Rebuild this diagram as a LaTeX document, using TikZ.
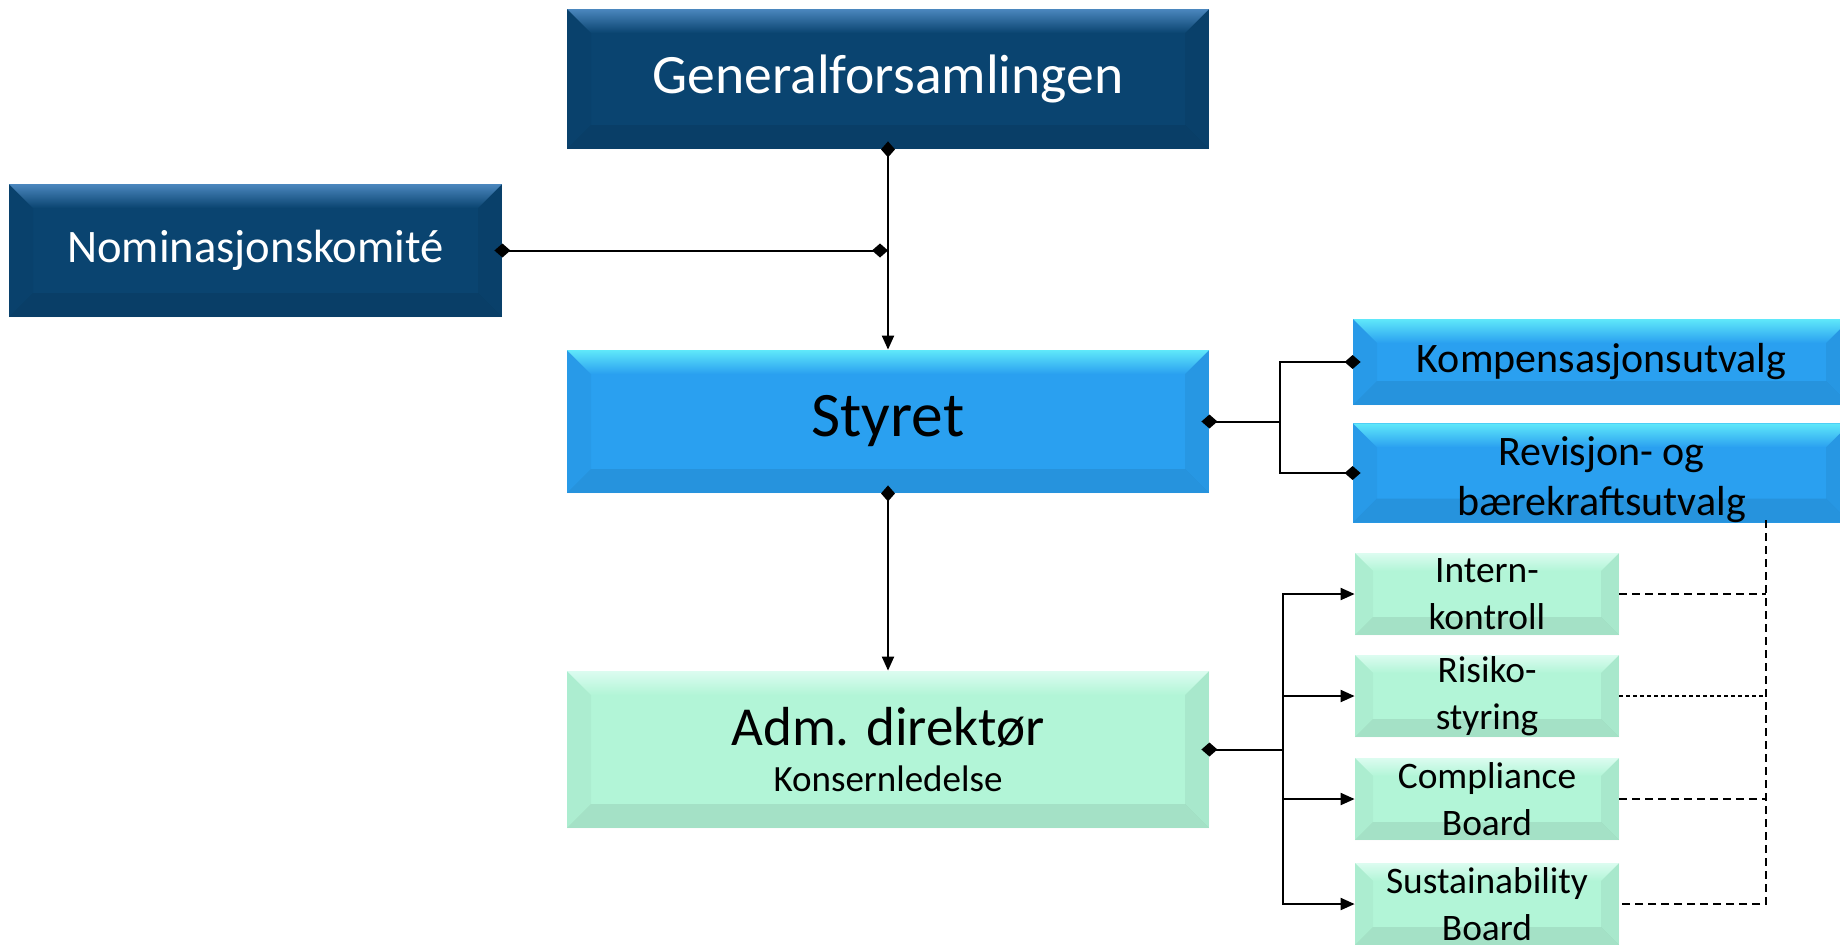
\documentclass[tikz,border=0pt]{standalone}
\usepackage{fontspec}
\setmainfont{Carlito}
\usetikzlibrary{arrows.meta,calc}

\definecolor{navy}{RGB}{10,68,112}
\definecolor{navylight}{RGB}{75,135,190}
\definecolor{skyblue}{RGB}{42,160,240}
\definecolor{skylight}{RGB}{95,232,250}
\definecolor{mint}{RGB}{178,245,215}
\definecolor{mintlight}{RGB}{220,252,240}

\tikzset{
  bevel/.style n args={3}{fill=#1, inner sep=0pt, align=center,
    path picture={
      \coordinate (bnw) at (path picture bounding box.north west);
      \coordinate (bse) at (path picture bounding box.south east);
      \coordinate (bne) at (bnw -| bse);
      \coordinate (bsw) at (bnw |- bse);
      \shade[top color=#2, bottom color=#1] (bnw) -- (bne) -- ($(bne)+(-#3,-#3)$) -- ($(bnw)+(#3,-#3)$) -- cycle;
      \fill[black,opacity=.03] (bnw) -- ($(bnw)+(#3,-#3)$) -- ($(bsw)+(#3,#3)$) -- (bsw) -- cycle;
      \fill[black,opacity=.05] (bne) -- ($(bne)+(-#3,-#3)$) -- ($(bse)+(-#3,#3)$) -- (bse) -- cycle;
      \fill[black,opacity=.08] (bsw) -- ($(bsw)+(#3,#3)$) -- ($(bse)+(-#3,#3)$) -- (bse) -- cycle;
    }},
  darkbox/.style={bevel={navy}{navylight}{12pt}, text=white},
  bluebox/.style={bevel={skyblue}{skylight}{12pt}, text=black},
  greenbox/.style={bevel={mint}{mintlight}{12pt}, text=black},
  smallbox/.style={bevel={mint}{mintlight}{9pt}, text=black, minimum width=132pt, minimum height=41pt,
    font=\fontsize{18.7}{23.5}\selectfont},
  dm/.tip={Diamond[length=8pt,width=7pt]},
  link/.style={line width=1pt, >={Triangle[length=7pt,width=6pt]}},
  dlink/.style={line width=0.8pt, dash pattern=on 4pt off 2.5pt},
}

\begin{document}
\begin{tikzpicture}[x=0.5pt,y=-0.5pt]
  \useasboundingbox (0,0) rectangle (1840,944);
  \clip (0,0) rectangle (1840,944);

  \node[darkbox, minimum width=321pt, minimum height=70pt, font=\fontsize{27.8}{32}\selectfont] (gf) at (888,79) {Generalforsamlingen};
  \node[darkbox, minimum width=246.5pt, minimum height=66.5pt, font=\fontsize{23.3}{28}\selectfont] (nom) at (255.5,250.5) {Nominasjonskomité};
  \node[bluebox, minimum width=321pt, minimum height=71.5pt, font=\fontsize{31.7}{36}\selectfont] (styret) at (888,421.5) {Styret};
  \node[bluebox, minimum width=248.5pt, minimum height=43pt, font=\fontsize{21}{25}\selectfont] (komp) at (1601.5,362) {Kompensasjonsutvalg};
  \node[bluebox, minimum width=248.5pt, minimum height=47pt, font=\fontsize{21}{25}\selectfont] (rev) at (1601.5,473) {\rule{0pt}{21pt}Revisjon- og\\bærekraftsutvalg};
  \node[greenbox, minimum width=321pt, minimum height=78.5pt] (adm) at (888,749.5)
    {\fontsize{27.5}{33}\selectfont Adm. direktør\\[8pt]\fontsize{18.5}{25}\selectfont Konsernledelse};

  \node[smallbox] (intern) at (1487,594) {Intern-\\kontroll};
  \node[smallbox] (risiko) at (1487,696) {Risiko-\\styring};
  \node[smallbox] (compl) at (1487,799) {Compliance\\Board};
  \node[smallbox] (sust) at (1487,904) {Sustainability\\Board};

  % connectors
  \draw[link, {dm}->, shorten <=-4pt] (gf.south) -- (styret.north);
  \draw[link, {dm}-{dm}, shorten <=-4pt] (nom.east) -- (nom.east -| gf.south);
  \draw[link, {dm}->, shorten <=-4pt] (styret.south) -- (adm.north);

  \coordinate (sj) at (1280,421.5);
  \draw[link, {dm}-, shorten <=-4pt] (styret.east) -- (sj);
  \draw[link, -{dm}, shorten >=-4pt] (sj) |- (komp.west);
  \draw[link, -{dm}, shorten >=-4pt] (sj) |- (rev.west);

  \coordinate (aj) at (1283,749.5);
  \draw[link, {dm}-, shorten <=-4pt] (adm.east) -- (aj);
  \foreach \b in {intern,risiko,compl,sust}
    \draw[link, ->] (aj) |- (\b.west);

  \coordinate (dtop) at (1766,520);
  \draw[dlink] (dtop) |- (sust.east);
  \foreach \b in {intern,compl}
    \draw[dlink] (\b.east) -- (\b.east -| dtop);
  \draw[dlink, dash pattern=on 2pt off 1.5pt] (risiko.east) -- (risiko.east -| dtop);
\end{tikzpicture}
\end{document}
